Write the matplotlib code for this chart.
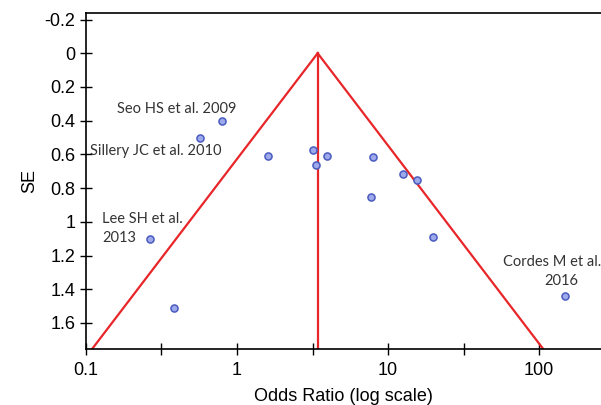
import numpy as np
import matplotlib.pyplot as plt

# datos del funnel plot
odds = [0.80, 0.566, 1.60, 3.17, 3.32, 3.94, 7.96, 12.6, 15.6, 7.67, 19.9, 148.6, 0.264, 0.385]
se = [0.40, 0.504, 0.608, 0.572, 0.661, 0.611, 0.617, 0.714, 0.750, 0.855, 1.088, 1.44, 1.10, 1.51]
or_global = 3.42

etiquetas = ["Seo HS et al. 2009", "Sillery JC et al. 2010", "Lee SH et al.\n2013", "Cordes M et al.", "2016"]

#%%
fig = plt.figure(figsize=(6.01, 4.05), dpi=100)
ax = fig.add_axes([0.143, 0.138, 0.857, 0.830])

# embudo con limites de 95%
s = np.linspace(0, 2, 50)
izq = np.exp(np.log(or_global) - 1.96 * s)
der = np.exp(np.log(or_global) + 1.96 * s)
ax.plot(izq, s, color='#e8262a', lw=1.6)
ax.plot(der, s, color='#e8262a', lw=1.6)
ax.plot([or_global, or_global], [0, 2], color='#e8262a', lw=1.6)

ax.scatter(odds, se, s=26, facecolor='#9ea9ec', edgecolor='#4a5bbf', linewidth=1.1, zorder=3)

ax.set_xscale('log')
ax.set_xlim(0.1, 257)
ax.set_ylim(1.755, -0.239)

ax.set_xticks([0.1, 1, 10, 100])
ax.set_xticklabels(['0.1', '1', '10', '100'])
ax.set_xticks([10**-0.5, 10**0.5, 10**1.5], minor=True)
ax.set_yticks([-0.2, 0, 0.2, 0.4, 0.6, 0.8, 1, 1.2, 1.4, 1.6])
ax.set_yticklabels(['-0.2', '0', '0.2', '0.4', '0.6', '0.8', '1', '1.2', '1.4', '1.6'])
ax.tick_params(axis='both', which='both', direction='inout', length=9, width=1)
ax.tick_params(axis='both', labelsize=13)
for lab in ax.get_xticklabels() + ax.get_yticklabels():
    lab.set_fontfamily('Liberation Sans')
ax.tick_params(axis='y', pad=3)
ax.tick_params(axis='x', pad=5)

ax.spines['right'].set_visible(False)
for sp in ['left', 'bottom', 'top']:
    ax.spines[sp].set_linewidth(1.2)

ax.set_xlabel('Odds Ratio (log scale)', fontsize=13, family='Liberation Sans', labelpad=6)
ax.set_ylabel('SE', fontsize=13, family='Liberation Sans', labelpad=5)

fuente = dict(fontsize=10.5, family='Lato', color='#333333')
ax.annotate(etiquetas[0], (0.80, 0.33), xytext=(10, 0), textcoords='offset points', ha='right', va='center', **fuente)
ax.annotate(etiquetas[1], (0.566, 0.58), xytext=(-79, 0), textcoords='offset points', ha='left', va='center', **fuente)
ax.annotate(etiquetas[2], (0.264, 1.04), xytext=(-34, 0), textcoords='offset points', ha='left', va='center', linespacing=1.4, **fuente)
ax.annotate(etiquetas[3], (148.6, 1.24), xytext=(-45, 0), textcoords='offset points', ha='left', va='center', **fuente)
ax.annotate(etiquetas[4], (148.6, 1.35), xytext=(-3, 0), textcoords='offset points', ha='center', va='center', **fuente)

fig.savefig('out.png', dpi=100)
